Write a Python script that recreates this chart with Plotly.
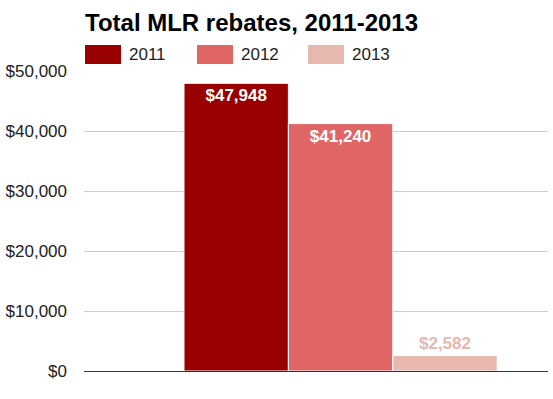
import plotly.graph_objects as go

# ---- data ----
years = ["2011", "2012", "2013"]
rebates = [47948, 41240, 2582]
colors = ["#990000", "#e06666", "#e6b8af"]
label_colors = ["#ffffff", "#ffffff", "#e6b8af"]
label_positions = ["inside", "inside", "outside"]
category = ["Total"]
y_ticks = [0, 10000, 20000, 30000, 40000, 50000]

W, H = 553, 399
ML, MR, MT, MB = 84, 5, 71, 28
FONT = "Arial, Liberation Sans, sans-serif"

fig = go.Figure()
for yr, val, col, lc, pos in zip(years, rebates, colors, label_colors, label_positions):
    fig.add_trace(go.Bar(
        x=category, y=[val], name=yr,
        marker=dict(color=col, line=dict(color="white", width=1)),
        text=[val], texttemplate="$%{y:,}", textposition=pos,
        insidetextanchor="end",
        textfont=dict(family=FONT, size=17, color=lc, weight="bold"),
        cliponaxis=False, showlegend=False,
    ))

# manual legend (wide rectangle swatches like the original)
plot_w = W - ML - MR
plot_h = H - MT - MB
legend_x0 = [85, 197, 308]
sw_w = 36
for x0, yr, col in zip(legend_x0, years, colors):
    fig.add_shape(type="rect", xref="paper", yref="paper",
                  x0=(x0 - ML) / plot_w, x1=(x0 + sw_w - ML) / plot_w,
                  y0=1 + (MT - 64) / plot_h, y1=1 + (MT - 45) / plot_h,
                  fillcolor=col, line=dict(width=0))
    fig.add_annotation(xref="paper", yref="paper",
                       x=(x0 + sw_w + 6 - ML) / plot_w, xanchor="left",
                       y=1 + (MT - 54.5) / plot_h, yanchor="middle",
                       text=yr, showarrow=False,
                       font=dict(family=FONT, size=17, color="#222222"))

fig.update_layout(
    width=W, height=H,
    margin=dict(l=ML, r=MR, t=MT, b=MB),
    paper_bgcolor="white", plot_bgcolor="white",
    barmode="group", bargap=0.325, bargroupgap=0,
    title=dict(text="<b>Total MLR rebates, 2011-2013</b>",
               font=dict(family=FONT, size=24, color="#000000"),
               x=85 / W, xanchor="left", xref="container",
               y=1 - 23 / H, yanchor="middle", yref="container"),
    font=dict(family=FONT),
    xaxis=dict(type="category", range=[-0.553, 0.447], showticklabels=False,
               showgrid=False, zeroline=False, showline=False, ticks=""),
    yaxis=dict(range=[0, 50000], tickvals=y_ticks, tickformat="$,",
               tickfont=dict(family=FONT, size=17, color="#222222"),
               showgrid=True, gridcolor="#cccccc", gridwidth=1,
               zeroline=True, zerolinecolor="#333333", zerolinewidth=1,
               ticks="", ticklabelstandoff=16, showline=False),
)

fig.write_html("out.html", config={"displayModeBar": False},
               post_script="document.body.style.margin='0px';")
